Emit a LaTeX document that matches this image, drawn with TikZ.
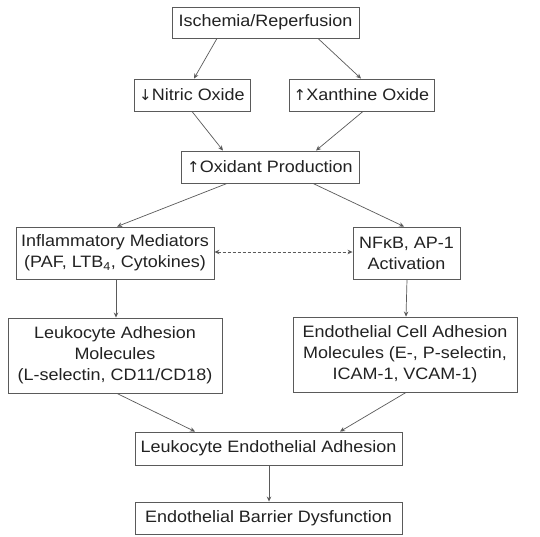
\documentclass[tikz,border=0pt]{standalone}
\usepackage{fontspec}
\setmainfont{Liberation Sans}[FakeStretch=1.09]
\newfontfamily\symf{DejaVu Sans}
\usetikzlibrary{arrows.meta}
\definecolor{boxline}{HTML}{5A5A5A}
\definecolor{txt}{HTML}{222222}
\begin{document}
\begin{tikzpicture}[x=1pt,y=-1pt,
  box/.style={draw=boxline,line width=0.9pt,rectangle,inner sep=0pt,align=center,
    text=txt,font=\fontsize{16.5}{21}\selectfont},
  arr/.style={draw=boxline,line width=0.7pt,-{Stealth[length=5pt,width=4.5pt]}},
  darr/.style={draw=boxline,line width=0.7pt,dashed,dash pattern=on 3pt off 2pt,
    {Stealth[length=5pt,width=4.5pt]}-{Stealth[length=5pt,width=4.5pt]}}]
\useasboundingbox[fill=white] (0,0) rectangle (540,537);
\node[box,minimum width=187pt,minimum height=31pt] (isch) at (265.5,22.5) {Ischemia/Reperfusion};
\node[box,minimum width=116pt,minimum height=32pt] (no) at (192,95) {{\symf\fontsize{15}{15}\selectfont ↓}Nitric Oxide};
\node[box,minimum width=145pt,minimum height=32pt] (xo) at (361.5,95) {{\symf\fontsize{15}{15}\selectfont ↑}Xanthine Oxide};
\node[box,minimum width=178pt,minimum height=32pt] (ox) at (270,167) {{\symf\fontsize{15}{15}\selectfont ↑}Oxidant Production};
\node[box,minimum width=198pt,minimum height=52pt] (inf) at (115,253) {Inflammatory Mediators\\(PAF, LTB\textsubscript{4}, Cytokines)};
\node[box,minimum width=107pt,minimum height=52pt] (nf) at (406.5,253) {NFκB, AP-1\\Activation};
\node[box,minimum width=214pt,minimum height=75pt] (lam) at (115,355.5) {Leukocyte Adhesion\\Molecules\\(L-selectin, CD11/CD18)};
\node[box,minimum width=224pt,minimum height=75pt] (ecam) at (405,354.5) {Endothelial Cell Adhesion\\Molecules (E-, P-selectin,\\ICAM-1, VCAM-1)};
\node[box,minimum width=267pt,minimum height=33pt] (lea) at (268.5,448.5) {Leukocyte Endothelial Adhesion};
\node[box,minimum width=267pt,minimum height=32pt] (ebd) at (268.5,518) {Endothelial Barrier Dysfunction};

\draw[arr] ([xshift=-48.5pt]isch.south) -- ([xshift=2pt]no.north);
\draw[arr] ([xshift=52.5pt]isch.south) -- ([xshift=-0.5pt]xo.north);
\draw[arr] (no.south) -- ([xshift=-47pt]ox.north);
\draw[arr] ([xshift=1.5pt]xo.south) -- ([xshift=46pt]ox.north);
\draw[arr] ([xshift=-43pt]ox.south) -- ([xshift=2pt]inf.north);
\draw[arr] ([xshift=43pt]ox.south) -- ([xshift=-2.5pt]nf.north);
\draw[darr] ([yshift=1pt]inf.east) -- ([yshift=1pt]nf.west);
\draw[arr] ([xshift=1pt]inf.south) -- ([xshift=1pt]lam.north);
\draw[arr] ([xshift=0.5pt]nf.south) -- ([xshift=1pt]ecam.north);
\draw[arr] ([xshift=2pt]lam.south) -- ([xshift=-73.5pt]lea.north);
\draw[arr] ([xshift=1pt]ecam.south) -- ([xshift=71.5pt]lea.north);
\draw[arr] ([xshift=0.5pt]lea.south) -- ([xshift=0.5pt]ebd.north);
\end{tikzpicture}
\end{document}
